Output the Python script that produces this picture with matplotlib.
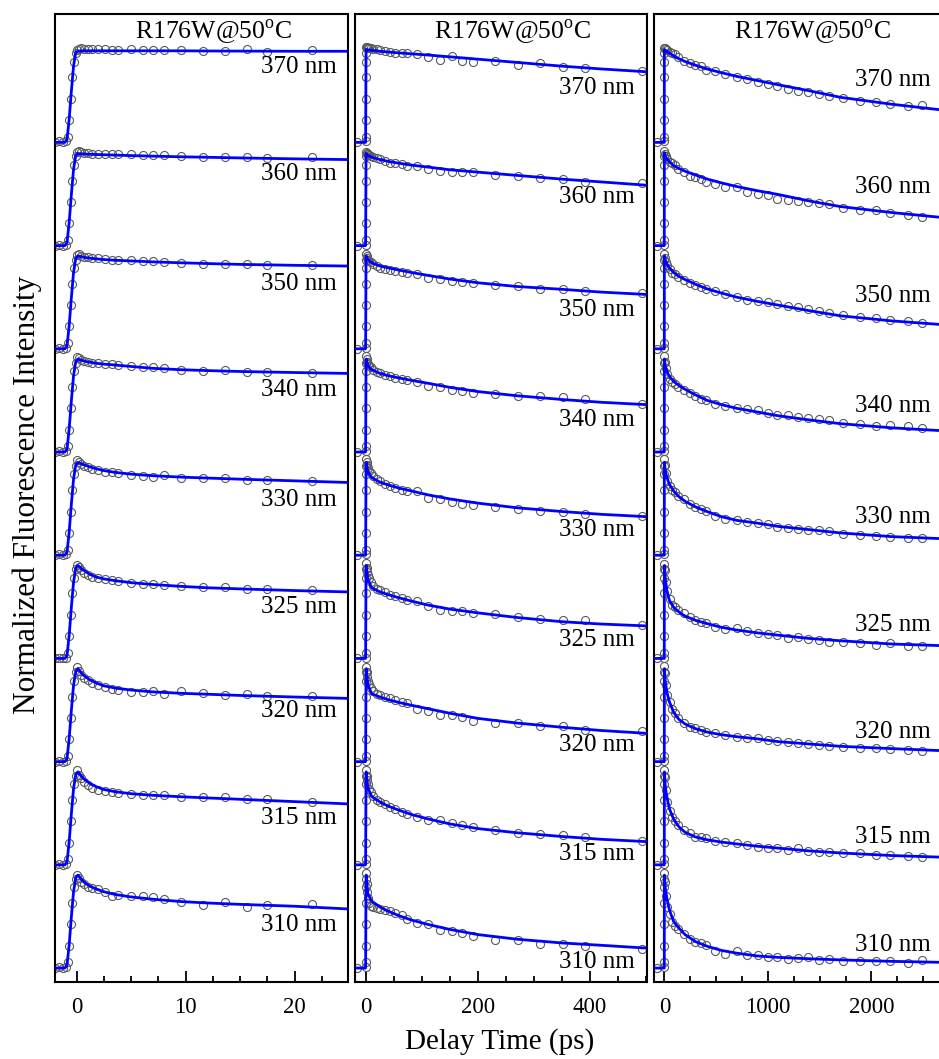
import matplotlib
matplotlib.use("Agg")
import matplotlib.pyplot as plt
from matplotlib.ticker import MultipleLocator
from matplotlib.transforms import blended_transform_factory

plt.rcParams['font.family'] = ['Liberation Serif', 'DejaVu Serif']
plt.rcParams['mathtext.fontset'] = 'custom'
plt.rcParams['mathtext.rm'] = 'Liberation Serif'

# ---- data (normalized, 0 = baseline, 1 = peak) ----
wavelengths = ["370 nm", "360 nm", "350 nm", "340 nm", "330 nm",
               "325 nm", "320 nm", "315 nm", "310 nm"]
panel_title = "R176W@50$^{\\mathrm{o}}$C"

# rising edge shared by all traces (ps)
rise_t = [-1.0, -0.85, -0.7, -0.55, -0.4, -0.25, -0.1]
rise_y = [0.01, 0.06, 0.24, 0.47, 0.70, 0.87, 0.96]
fit_rise_t = [-1.1, -0.9, -0.7, -0.5, -0.3, -0.1]
fit_rise_y = [0.0, 0.03, 0.25, 0.55, 0.82, 0.97]

# baseline points before time zero
base_short_t = [-2.0, -1.6, -1.3]
base_short_y = [0.0, 0.01, 0.0]
base_mid_t = [-16]
base_long_t = [-68]
base_one_y = [0.0]

# --- 0-25 ps window ---
short_t = [0.0, 0.2, 0.4, 0.7, 1.0, 1.4, 1.9, 2.6, 3.2, 3.8,
           5.0, 6.1, 7.0, 8.0, 9.6, 11.6, 13.6, 15.6, 17.5, 21.6]
short_pts = [
    [0.99, 1.0, 1.01, 1.0, 1.0, 1.0, 1.0, 1.0, 0.995, 0.995, 1.0, 0.995, 0.995, 0.995, 0.99, 0.98, 0.98, 1.0, 0.975, 0.99],
    [1.01, 1.02, 1.01, 1.0, 0.995, 0.99, 0.99, 0.985, 0.99, 0.985, 0.98, 0.975, 0.975, 0.975, 0.96, 0.955, 0.955, 0.95, 0.945, 0.95],
    [1.01, 1.02, 1.0, 0.99, 0.985, 0.98, 0.975, 0.965, 0.96, 0.955, 0.955, 0.945, 0.94, 0.935, 0.925, 0.915, 0.915, 0.915, 0.9, 0.9],
    [1.02, 1.01, 0.99, 0.98, 0.97, 0.96, 0.955, 0.95, 0.945, 0.94, 0.925, 0.915, 0.91, 0.9, 0.88, 0.875, 0.88, 0.86, 0.86, 0.85],
    [1.02, 1.0, 0.98, 0.96, 0.95, 0.93, 0.92, 0.9, 0.89, 0.885, 0.865, 0.855, 0.845, 0.86, 0.835, 0.835, 0.835, 0.81, 0.81, 0.8],
    [1.01, 0.98, 0.95, 0.92, 0.9, 0.88, 0.86, 0.85, 0.84, 0.83, 0.81, 0.805, 0.8, 0.79, 0.775, 0.77, 0.77, 0.75, 0.745, 0.735],
    [1.02, 0.97, 0.93, 0.9, 0.88, 0.85, 0.82, 0.8, 0.78, 0.77, 0.75, 0.75, 0.76, 0.73, 0.76, 0.735, 0.72, 0.73, 0.71, 0.71],
    [1.02, 0.97, 0.93, 0.89, 0.86, 0.83, 0.81, 0.79, 0.78, 0.775, 0.76, 0.75, 0.75, 0.75, 0.725, 0.73, 0.725, 0.71, 0.71, 0.675],
    [1.0, 0.97, 0.93, 0.9, 0.87, 0.86, 0.85, 0.82, 0.77, 0.79, 0.77, 0.77, 0.76, 0.74, 0.715, 0.68, 0.71, 0.66, 0.68, 0.685],
]
short_fit_t = [0.1, 0.6, 1.2, 1.8, 2.5, 3.6, 5, 7, 9.6, 12, 15, 20, 25]
short_fit = [
    [0.98, 0.985, 0.985, 0.985, 0.985, 0.985, 0.985, 0.985, 0.985, 0.983, 0.982, 0.98, 0.98],
    [0.99, 0.985, 0.982, 0.98, 0.977, 0.973, 0.968, 0.962, 0.955, 0.95, 0.943, 0.933, 0.925],
    [1.0, 0.985, 0.975, 0.967, 0.96, 0.952, 0.945, 0.935, 0.925, 0.917, 0.908, 0.898, 0.89],
    [1.0, 0.98, 0.965, 0.955, 0.945, 0.935, 0.92, 0.9, 0.885, 0.876, 0.866, 0.855, 0.845],
    [1.0, 0.975, 0.95, 0.93, 0.91, 0.89, 0.872, 0.855, 0.84, 0.83, 0.818, 0.8, 0.782],
    [1.0, 0.95, 0.905, 0.875, 0.855, 0.835, 0.815, 0.795, 0.775, 0.76, 0.748, 0.73, 0.715],
    [1.0, 0.93, 0.88, 0.845, 0.815, 0.79, 0.77, 0.75, 0.735, 0.725, 0.712, 0.695, 0.68],
    [1.0, 0.93, 0.875, 0.84, 0.81, 0.785, 0.765, 0.748, 0.732, 0.72, 0.705, 0.68, 0.655],
    [1.0, 0.93, 0.88, 0.85, 0.82, 0.79, 0.765, 0.74, 0.715, 0.70, 0.685, 0.665, 0.635],
]

# --- 0-500 ps window ---
mid_t = [0, 1, 2, 3, 5, 8, 13, 19, 25, 34, 43, 52, 64, 73, 91,
         111, 132, 154, 171, 191, 230, 271, 311, 352, 391, 493]
mid_pts = [
    [1.03, 1.03, 1.02, 1.02, 1.01, 1.01, 1.0, 1.0, 0.99, 0.98, 0.97, 0.96, 0.96, 0.96, 0.95, 0.92, 0.89, 0.93, 0.88, 0.87, 0.88, 0.83, 0.85, 0.81, 0.80, 0.77],
    [1.01, 1.0, 0.99, 0.98, 0.97, 0.96, 0.95, 0.94, 0.93, 0.91, 0.89, 0.885, 0.875, 0.86, 0.855, 0.82, 0.80, 0.79, 0.79, 0.79, 0.76, 0.75, 0.73, 0.72, 0.68, 0.67],
    [1.02, 1.0, 0.98, 0.96, 0.945, 0.93, 0.915, 0.89, 0.87, 0.855, 0.85, 0.84, 0.83, 0.82, 0.8, 0.76, 0.75, 0.73, 0.72, 0.71, 0.69, 0.675, 0.645, 0.64, 0.62, 0.595],
    [1.03, 1.0, 0.97, 0.95, 0.93, 0.91, 0.88, 0.865, 0.85, 0.83, 0.815, 0.80, 0.79, 0.775, 0.757, 0.71, 0.695, 0.67, 0.66, 0.63, 0.625, 0.60, 0.60, 0.59, 0.565, 0.52],
    [1.03, 1.0, 0.97, 0.94, 0.91, 0.88, 0.85, 0.82, 0.8, 0.77, 0.74, 0.72, 0.70, 0.69, 0.69, 0.62, 0.61, 0.575, 0.55, 0.535, 0.52, 0.50, 0.48, 0.465, 0.44, 0.42],
    [1.03, 0.97, 0.93, 0.9, 0.86, 0.82, 0.78, 0.75, 0.735, 0.71, 0.685, 0.67, 0.655, 0.63, 0.62, 0.565, 0.52, 0.515, 0.51, 0.49, 0.48, 0.445, 0.425, 0.41, 0.41, 0.365],
    [1.02, 0.96, 0.91, 0.87, 0.83, 0.79, 0.755, 0.73, 0.715, 0.70, 0.68, 0.66, 0.645, 0.63, 0.57, 0.54, 0.50, 0.50, 0.475, 0.44, 0.42, 0.415, 0.38, 0.38, 0.345, 0.33],
    [1.02, 0.96, 0.91, 0.87, 0.82, 0.78, 0.74, 0.70, 0.68, 0.65, 0.62, 0.60, 0.57, 0.55, 0.51, 0.485, 0.48, 0.445, 0.425, 0.41, 0.38, 0.345, 0.33, 0.32, 0.295, 0.26],
    [1.02, 0.9, 0.82, 0.75, 0.7, 0.67, 0.66, 0.65, 0.64, 0.625, 0.61, 0.595, 0.575, 0.53, 0.49, 0.47, 0.41, 0.40, 0.38, 0.35, 0.30, 0.30, 0.26, 0.26, 0.24, 0.21],
]
mid_fit_t = [0.2, 3, 10, 25, 40, 60, 82, 110, 150, 200, 270, 350, 420, 500]
mid_fit = [
    [1.0, 0.995, 0.99, 0.98, 0.972, 0.962, 0.952, 0.94, 0.92, 0.895, 0.86, 0.82, 0.79, 0.76],
    [0.99, 0.97, 0.95, 0.925, 0.905, 0.885, 0.865, 0.845, 0.815, 0.79, 0.755, 0.715, 0.685, 0.65],
    [1.0, 0.96, 0.925, 0.89, 0.87, 0.845, 0.82, 0.79, 0.75, 0.71, 0.67, 0.64, 0.61, 0.585],
    [1.0, 0.93, 0.885, 0.845, 0.82, 0.795, 0.77, 0.74, 0.695, 0.65, 0.605, 0.565, 0.535, 0.51],
    [1.0, 0.9, 0.835, 0.785, 0.755, 0.72, 0.69, 0.65, 0.605, 0.56, 0.51, 0.47, 0.44, 0.415],
    [1.0, 0.85, 0.76, 0.715, 0.685, 0.65, 0.615, 0.575, 0.53, 0.49, 0.44, 0.395, 0.37, 0.35],
    [1.0, 0.83, 0.73, 0.695, 0.665, 0.635, 0.605, 0.57, 0.52, 0.465, 0.415, 0.37, 0.335, 0.305],
    [1.0, 0.83, 0.735, 0.675, 0.63, 0.585, 0.54, 0.495, 0.44, 0.39, 0.345, 0.305, 0.275, 0.25],
    [1.0, 0.8, 0.72, 0.655, 0.61, 0.56, 0.515, 0.47, 0.415, 0.36, 0.31, 0.27, 0.245, 0.215],
]

# --- 0-2700 ps window ---
long_t = [0, 5, 15, 30, 50, 75, 100, 135, 185, 250, 300, 350, 400, 490, 590, 700,
          800, 900, 1000, 1090, 1190, 1290, 1390, 1490, 1590, 1730, 1890, 2040, 2180, 2350, 2490]
long_pts = [
    [1.02, 1.01, 1.0, 0.99, 0.975, 0.96, 0.95, 0.92, 0.88, 0.85, 0.83, 0.82, 0.775, 0.77, 0.74, 0.70, 0.68, 0.645, 0.63, 0.61, 0.575, 0.555, 0.545, 0.52, 0.495, 0.473, 0.448, 0.437, 0.41, 0.387, 0.40],
    [1.02, 0.99, 0.96, 0.93, 0.9, 0.885, 0.87, 0.82, 0.79, 0.75, 0.735, 0.72, 0.68, 0.66, 0.63, 0.63, 0.575, 0.555, 0.545, 0.5, 0.495, 0.475, 0.467, 0.46, 0.45, 0.40, 0.38, 0.38, 0.355, 0.33, 0.31],
    [1.02, 0.98, 0.93, 0.9, 0.86, 0.82, 0.8, 0.77, 0.74, 0.71, 0.69, 0.67, 0.64, 0.62, 0.59, 0.56, 0.53, 0.515, 0.5, 0.48, 0.46, 0.445, 0.425, 0.405, 0.39, 0.36, 0.34, 0.335, 0.315, 0.30, 0.28],
    [1.03, 0.97, 0.9, 0.84, 0.78, 0.75, 0.73, 0.7, 0.67, 0.63, 0.6, 0.575, 0.555, 0.52, 0.49, 0.477, 0.466, 0.448, 0.42, 0.395, 0.395, 0.376, 0.37, 0.359, 0.34, 0.312, 0.298, 0.276, 0.287, 0.276, 0.262],
    [1.04, 0.97, 0.88, 0.8, 0.74, 0.7, 0.68, 0.64, 0.6, 0.55, 0.52, 0.5, 0.475, 0.42, 0.395, 0.376, 0.358, 0.347, 0.333, 0.305, 0.294, 0.287, 0.276, 0.269, 0.262, 0.233, 0.215, 0.208, 0.197, 0.19, 0.186],
    [1.02, 0.95, 0.82, 0.72, 0.64, 0.58, 0.55, 0.52, 0.484, 0.448, 0.413, 0.39, 0.376, 0.34, 0.316, 0.323, 0.294, 0.269, 0.258, 0.251, 0.215, 0.233, 0.208, 0.198, 0.18, 0.18, 0.161, 0.144, 0.161, 0.137, 0.133],
    [1.03, 0.95, 0.82, 0.72, 0.64, 0.57, 0.52, 0.466, 0.412, 0.376, 0.358, 0.34, 0.323, 0.305, 0.287, 0.269, 0.258, 0.25, 0.233, 0.222, 0.208, 0.197, 0.186, 0.179, 0.172, 0.161, 0.143, 0.143, 0.136, 0.126, 0.115],
    [1.02, 0.95, 0.8, 0.68, 0.58, 0.52, 0.47, 0.43, 0.376, 0.34, 0.304, 0.295, 0.286, 0.258, 0.25, 0.232, 0.215, 0.197, 0.186, 0.179, 0.161, 0.179, 0.15, 0.143, 0.135, 0.125, 0.125, 0.108, 0.108, 0.097, 0.089],
    [1.02, 0.93, 0.78, 0.66, 0.58, 0.5, 0.45, 0.42, 0.37, 0.315, 0.285, 0.265, 0.244, 0.187, 0.151, 0.18, 0.144, 0.137, 0.115, 0.115, 0.1, 0.108, 0.115, 0.09, 0.1, 0.079, 0.072, 0.079, 0.072, 0.054, 0.09],
]
long_fit_t = [0.5, 10, 26, 50, 90, 140, 200, 300, 412, 550, 700, 900, 1100, 1400, 1700, 2200, 2750]
long_fit = [
    [1.0, 0.99, 0.975, 0.96, 0.93, 0.9, 0.87, 0.83, 0.79, 0.75, 0.71, 0.665, 0.62, 0.555, 0.485, 0.41, 0.34],
    [1.0, 0.96, 0.93, 0.9, 0.86, 0.83, 0.8, 0.76, 0.716, 0.675, 0.635, 0.59, 0.55, 0.48, 0.42, 0.355, 0.295],
    [1.0, 0.95, 0.91, 0.87, 0.82, 0.78, 0.745, 0.695, 0.645, 0.6, 0.555, 0.51, 0.47, 0.41, 0.355, 0.3, 0.255],
    [1.0, 0.92, 0.86, 0.81, 0.76, 0.715, 0.675, 0.615, 0.556, 0.51, 0.47, 0.43, 0.39, 0.345, 0.305, 0.26, 0.225],
    [1.0, 0.9, 0.83, 0.76, 0.69, 0.63, 0.58, 0.52, 0.47, 0.415, 0.375, 0.345, 0.31, 0.275, 0.24, 0.2, 0.175],
    [1.0, 0.85, 0.72, 0.62, 0.55, 0.5, 0.455, 0.41, 0.375, 0.335, 0.305, 0.275, 0.25, 0.215, 0.19, 0.155, 0.135],
    [1.0, 0.85, 0.74, 0.64, 0.53, 0.455, 0.405, 0.355, 0.318, 0.29, 0.268, 0.245, 0.215, 0.19, 0.165, 0.14, 0.115],
    [1.0, 0.83, 0.72, 0.6, 0.49, 0.41, 0.35, 0.3, 0.27, 0.245, 0.225, 0.2, 0.18, 0.15, 0.128, 0.1, 0.08],
    [1.0, 0.85, 0.74, 0.62, 0.5, 0.43, 0.36, 0.285, 0.235, 0.19, 0.16, 0.13, 0.115, 0.1, 0.088, 0.072, 0.06],
]

# label heights (data units) per panel, 370 nm first
short_label_y = [9.69, 8.54, 7.36, 6.22, 5.03, 3.88, 2.76, 1.61, 0.46]
mid_label_y = [9.46, 8.29, 7.08, 5.89, 4.71, 3.53, 2.40, 1.23, 0.07]
long_label_y = [9.55, 8.40, 7.23, 6.04, 4.85, 3.69, 2.54, 1.41, 0.25]

STEP = 1.11  # vertical offset between stacked traces


def draw_panel(ax, base_t, base_y, pts_t, pts, fit_t, fits, xlim, major, minor, label_y, label_x):
    n = len(wavelengths)
    for k in range(n):
        off = (n - 1 - k) * STEP
        t = base_t + rise_t + pts_t
        y = [v + off for v in base_y + rise_y + pts[k]]
        ax.plot(t, y, 'o', ms=5.8, mfc='none', mec='#5a5a5a', mew=0.8, zorder=2)
        ft = [xlim[0]] + fit_rise_t + fit_t
        fy = [v + off for v in [0.0] + fit_rise_y + fits[k]]
        ax.plot(ft, fy, '-', color='#0000ff', lw=2.0, zorder=3)

    trans = blended_transform_factory(ax.transAxes, ax.transData)
    for lab, ly in zip(wavelengths, label_y):
        ax.text(label_x, ly, lab, transform=trans, ha='right', va='center', fontsize=18)
    ax.text(0.54, 0.981, panel_title, transform=ax.transAxes, ha='center', va='center', fontsize=18.5)

    ax.set_xlim(*xlim)
    ax.set_ylim(-0.15, 10.26)
    ax.set_yticks([])
    ax.xaxis.set_major_locator(MultipleLocator(major))
    ax.xaxis.set_minor_locator(MultipleLocator(minor))
    ax.tick_params(axis='x', which='major', direction='in', length=8, width=1.3, labelsize=16.5, pad=11)
    ax.tick_params(axis='x', which='minor', direction='in', length=4.5, width=1.3)
    for s in ax.spines.values():
        s.set_linewidth(1.5)


fig = plt.figure(figsize=(9.39, 10.59), dpi=100)
bottom, height = 0.0727, 0.914
ax1 = fig.add_axes([0.0586, bottom, 0.312, height])
ax2 = fig.add_axes([0.378, bottom, 0.311, height])
ax3 = fig.add_axes([0.6965, bottom, 0.312, height])

draw_panel(ax1, base_short_t, base_short_y, short_t, short_pts, short_fit_t, short_fit,
           (-2, 24.9), 10, 2.5, short_label_y, 0.962)
draw_panel(ax2, base_mid_t, base_one_y, mid_t, mid_pts, mid_fit_t, mid_fit,
           (-20, 502), 200, 50, mid_label_y, 0.959)
draw_panel(ax3, base_long_t, base_one_y, long_t, long_pts, long_fit_t, long_fit,
           (-100, 2730), 1000, 250, long_label_y, 0.945)

fig.text(500 / 939, 1 - 1042 / 1059, "Delay Time (ps)", ha='center', va='center', fontsize=21)
fig.text(27 / 939, 1 - 495 / 1059, "Normalized Fluorescence Intensity", rotation=90,
         ha='center', va='center', fontsize=22.5)

fig.savefig("out.png", dpi=100)
